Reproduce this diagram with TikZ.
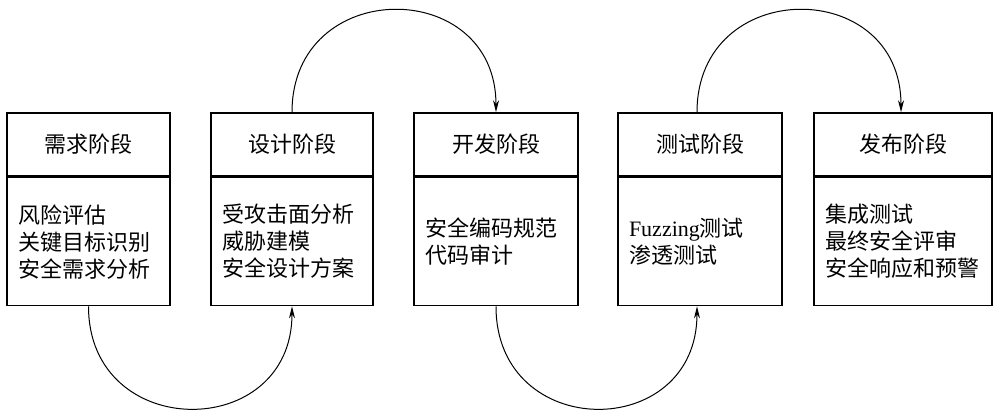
\documentclass[tikz,border=0pt]{standalone}
\usepackage{fontspec}
\setmainfont{Noto Sans CJK SC}
\newfontfamily\lat{Liberation Serif}
\usetikzlibrary{arrows.meta}
\begin{document}
\begin{tikzpicture}[x=1pt,y=-1pt,
  hdr/.style={draw,line width=1.6pt,minimum height=63pt,inner sep=0pt,
    font=\fontsize{22}{27}\selectfont},
  body/.style={draw,line width=1.6pt,minimum height=128pt,inner xsep=11pt,
    inner ysep=0pt,align=left,anchor=north,font=\fontsize{22}{27}\selectfont},
  link/.style={line width=1pt,-{Stealth[length=12pt,width=6pt]}}]
\useasboundingbox (0,0) rectangle (1000,416);
% box 1
\node[hdr,minimum width=163pt] (h1) at (88.5,144.5) {需求阶段};
\node[body,text width=141pt] (b1) at (h1.south) {风险评估\\关键目标识别\\安全需求分析};
% box 2
\node[hdr,minimum width=162pt] (h2) at (292,144.5) {设计阶段};
\node[body,text width=140pt] (b2) at (h2.south) {受攻击面分析\\威胁建模\\安全设计方案};
% box 3
\node[hdr,minimum width=164pt] (h3) at (496,144.5) {开发阶段};
\node[body,text width=142pt] (b3) at (h3.south) {安全编码规范\\代码审计};
% box 4
\node[hdr,minimum width=164pt] (h4) at (700,144.5) {测试阶段};
\node[body,text width=142pt] (b4) at (h4.south) {{\lat Fuzzing}测试\\渗透测试};
% box 5
\node[hdr,minimum width=178pt] (h5) at (903,144.5) {发布阶段};
\node[body,text width=156pt] (b5) at (h5.south) {集成测试\\最终安全评审\\安全响应和预警};
% connectors
\draw[link] (b1.south) .. controls +(0,136) and +(0,136) .. (b2.south);
\draw[link] (h2.north) .. controls +(0,-136) and +(0,-136) .. (h3.north);
\draw[link] (b3.south) .. controls +(0,136) and +(0,136) .. ([xshift=-3pt]b4.south);
\draw[link] ([xshift=-3pt]h4.north) .. controls +(0,-136) and +(0,-136) .. ([xshift=-2pt]h5.north);
\end{tikzpicture}
\end{document}
